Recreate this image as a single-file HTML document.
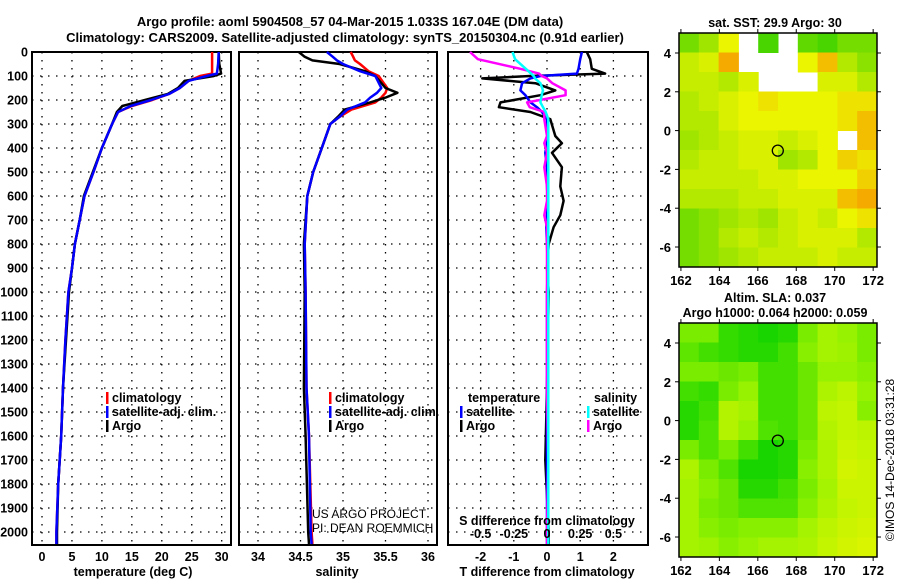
<!DOCTYPE html>
<html><head><meta charset="utf-8"><style>
html,body{margin:0;padding:0;background:#fff;}
svg{display:block;font-family:"Liberation Sans",sans-serif;}
.b{font-weight:bold;font-size:13px;}
.t{font-weight:bold;font-size:12.5px;}
.n{font-weight:normal;font-size:12px;}
</style></head><body>
<svg id="chart" width="900" height="580" viewBox="0 0 900 580" xmlns="http://www.w3.org/2000/svg">
<text class="b" x="350" y="26" text-anchor="middle" font-size="14">Argo profile: aoml 5904508_57 04-Mar-2015 1.033S 167.04E (DM data)</text>
<text class="b" x="345" y="42" text-anchor="middle" font-size="14">Climatology: CARS2009. Satellite-adjusted climatology: synTS_20150304.nc (0.91d earlier)</text>
<g id="g"></g>
</svg>
<script>
// ---- profile data ----
const tDepth = [0,50,90,100,120,150,175,200,225,250,300,400,500,600,700,800,900,1000,1200,1400,1600,1800,2000,2050];
const tArgo  = [29.5,29.6,29.9,28.7,23.8,22.7,21,17.2,13.4,12.5,11.7,10,8.5,7,6.3,5.5,5,4.5,4,3.5,3.2,2.7,2.5,2.5];
const tClim  = [28.4,28.4,28.4,26.4,24.5,23,21.2,18.4,15,12.7,11.7,10,8.6,7.1,6.3,5.5,5,4.4,3.9,3.5,3.2,2.7,2.4,2.4];
const tSat   = [29.5,29.4,29.2,27.5,24.5,23,21.2,18.2,14.8,12.7,11.7,10,8.6,7.1,6.3,5.5,5,4.4,3.9,3.5,3.2,2.7,2.4,2.4];
const sDepth = [0,20,35,50,80,100,150,170,190,210,240,270,300,400,500,600,800,1000,1400,1600,2000,2050];
const sArgo  = [34.48,34.55,34.64,34.96,35.26,35.38,35.5,35.64,35.5,35.32,35.02,34.94,34.85,34.75,34.65,34.58,34.54,34.55,34.54,34.56,34.59,34.6];
const sClim  = [35.09,35.12,35.14,35.2,35.3,35.42,35.52,35.5,35.45,35.38,35.1,34.96,34.85,34.75,34.65,34.58,34.55,34.56,34.57,34.6,34.63,34.64];
const sSat   = [34.81,34.88,34.93,35.0,35.2,35.38,35.45,35.4,35.32,35.26,35.05,34.96,34.85,34.75,34.65,34.58,34.55,34.56,34.57,34.6,34.62,34.63];
const dDepth = [0,30,70,90,100,110,130,160,180,210,230,250,280,350,380,420,480,560,620,680,730,800,900,1000,1400,1700,2000,2050];
const dTArgo = [1.2,1.3,1.35,1.75,-0.5,-1.95,-0.35,0.25,-0.2,-1.4,-1.45,-0.5,0.1,0.25,0.45,0.15,0.45,0.4,0.5,0.4,0.2,0.05,0,0.05,0,-0.05,0.05,0.05];
const dTSat  = [1.05,1.0,0.95,0.9,-0.2,-0.5,-0.75,-0.8,-0.65,-0.5,-0.3,-0.15,0,0.02,0,-0.05,0,0,0.02,0,-0.02,0,0.02,0,0,0,0,0];
const dSArgo = [-0.58,-0.52,-0.2,-0.06,-0.04,0.0,0.04,0.14,0.14,-0.15,-0.13,-0.02,-0.02,0,-0.02,0,-0.02,0,0,-0.02,0,0,0,0,0,0.01,0,0];
const dSSat  = [-0.26,-0.24,-0.16,-0.12,-0.1,-0.09,-0.05,-0.03,-0.04,-0.05,-0.03,-0.01,0.01,0.01,0.01,0.01,0.01,0.01,0.01,0.01,0.01,0.01,0.01,0.01,0.01,0.01,0.01,0.01];
const depthTicks = [0,100,200,300,400,500,600,700,800,900,1000,1100,1200,1300,1400,1500,1600,1700,1800,1900,2000];
const tTicks = [0,5,10,15,20,25,30];
const sTicks = [34,34.5,35,35.5,36];
const sTickLabels = ["34","34.5","35","35.5","36"];
const dTTicks = [-2,-1,0,1,2];
const dSTicks = [-0.5,-0.25,0,0.25,0.5];
// ---- map data (rows lat 5 -> -7, cols lon 162 -> 172) ----
const sstGrid = [
[0.2,0.3,0.5,null,0.1,null,0.15,0.1,0.2,0.2],
[0.4,0.45,0.7,null,null,null,0.5,0.65,0.35,0.25],
[0.4,0.4,0.35,0.45,null,null,null,0.45,0.45,0.35],
[0.35,0.4,0.45,0.5,0.55,0.5,0.5,0.5,0.55,0.55],
[0.35,0.35,0.45,0.5,0.5,0.5,0.5,0.5,0.55,0.65],
[0.3,0.35,0.4,0.45,0.45,0.4,0.45,0.5,null,0.65],
[0.35,0.4,0.4,0.45,0.45,0.3,0.35,0.5,0.6,0.55],
[0.4,0.4,0.4,0.4,0.45,0.45,0.5,0.5,0.5,0.6],
[0.35,0.35,0.35,0.4,0.4,0.45,0.45,0.45,0.65,0.7],
[0.2,0.25,0.3,0.35,0.3,0.4,0.45,0.4,0.5,0.55],
[0.2,0.25,0.35,0.4,0.35,0.4,0.45,0.45,0.45,0.35],
[0.2,0.25,0.3,0.35,0.4,0.4,0.4,0.45,0.4,0.4]];
const slaGrid = [
[0.4,0.4,0.15,0.1,0.05,0.1,0.4,0.6,0.5,0.4],
[0.3,0.2,0.15,0.1,0.1,0.2,0.45,0.6,0.55,0.4],
[0.4,0.4,0.35,0.4,0.2,0.2,0.35,0.5,0.5,0.45],
[0.2,0.15,0.4,0.5,0.2,0.2,0.35,0.65,0.75,0.5],
[0.1,0.2,0.7,0.6,0.2,0.2,0.35,0.75,0.8,0.45],
[0.1,0.25,0.7,0.5,0.25,0.2,0.35,0.7,0.8,0.75],
[0.4,0.25,0.4,0.2,0.05,0.1,0.4,0.65,0.85,0.8],
[0.65,0.4,0.25,0.05,0.05,0.1,0.45,0.65,0.9,0.85],
[0.6,0.45,0.35,0.1,0.1,0.2,0.4,0.6,0.85,0.85],
[0.6,0.4,0.35,0.25,0.25,0.25,0.45,0.65,0.8,0.85],
[0.6,0.45,0.4,0.45,0.45,0.45,0.6,0.75,0.85,0.9],
[0.6,0.55,0.45,0.5,0.6,0.6,0.65,0.8,0.9,0.95]];
const lonTicks = [162,164,166,168,170,172];
const latTicks = [4,2,0,-2,-4,-6];
const argoLon = 167.04, argoLat = -1.033;

const NS="http://www.w3.org/2000/svg";
const G=document.getElementById('g');
function mk(tag,attrs,parent){const e=document.createElementNS(NS,tag);for(const k in attrs)e.setAttribute(k,attrs[k]);(parent||G).appendChild(e);return e;}
function txt(s,x,y,anchor,cls,parent){const e=mk('text',{x:x,y:y,'text-anchor':anchor||'middle','class':cls||'t'},parent);e.textContent=s;return e;}

const Y0=52, Y1=545;
const yD = d => Y0 + d*0.24;
const panels=[{x0:32,x1:231},{x0:239,x1:437},{x0:448,x1:648}];
const xT = t => 42 + t*5.99;
const xS = s => 258 + (s-34)*85;
const xDT = d => 547 + d*33.2;
const xDS = d => 547 + d*132.8;

function frame(p,name){
  const r=mk('rect',{x:p.x0,y:Y0,width:p.x1-p.x0,height:Y1-Y0,fill:'none',stroke:'#000','stroke-width':2});
  
  
  depthTicks.forEach(d=>{
    const l=mk('line',{x1:p.x0,x2:p.x1,y1:yD(d),y2:yD(d),stroke:'#000','stroke-width':1.3,'stroke-dasharray':'1.5 6.5'});
    
    
  });
}
function vgrid(xs,name){xs.forEach(x=>{const l=mk('line',{x1:x,x2:x,y1:Y0,y2:Y1,stroke:'#000','stroke-width':1.3,'stroke-dasharray':'1.5 6.5'});});}
function series(depths,vals,xf,color,name,w){
  const pts=depths.map((d,i)=>xf(vals[i]).toFixed(1)+','+yD(d).toFixed(1)).join(' ');
  const l=mk('polyline',{points:pts,fill:'none',stroke:color,'stroke-width':w||2.5,'stroke-linejoin':'round'});
  
  
}
function xticklabels(vals,labels,xf,y){vals.forEach((v,i)=>{const t=txt(labels[i],xf(v),y);});}

// panel 1 temperature
frame(panels[0],'temperature-panel');
vgrid(tTicks.map(xT),'temperature-gridline');
depthTicks.forEach(d=>{const t=txt(String(d),28,yD(d)+4.5,'end');});
series(tDepth,tClim,xT,'#f00','temperature-climatology-line');
series(tDepth,tArgo,xT,'#000','temperature-argo-line');
series(tDepth,tSat,xT,'#00f','temperature-satellite-line');
xticklabels(tTicks,tTicks.map(String),xT,561);
let at=txt('temperature (deg C)',133,576);

// panel 2 salinity
frame(panels[1],'salinity-panel');
vgrid(sTicks.map(xS),'salinity-gridline');
series(sDepth,sClim,xS,'#f00','salinity-climatology-line');
series(sDepth,sArgo,xS,'#000','salinity-argo-line');
series(sDepth,sSat,xS,'#00f','salinity-satellite-line');
xticklabels(sTicks,sTickLabels,xS,561);
at=txt('salinity',337,576);

// panel 3 differences
frame(panels[2],'difference-panel');
vgrid(dTTicks.map(xDT),'difference-gridline');
series(dDepth,dTArgo,xDT,'#000','t-diff-argo-line');
series(dDepth,dTSat,xDT,'#00f','t-diff-satellite-line');
series(dDepth,dSArgo,xDS,'#f0f','s-diff-argo-line');
series(dDepth,dSSat,xDS,'#0ff','s-diff-satellite-line');
xticklabels(dTTicks,dTTicks.map(String),xDT,561);
xticklabels(dSTicks,["-0.5","-0.25","0","0.25","0.5"],xDS,538);
at=txt('T difference from climatology',547,576);
at=txt('S difference from climatology',547,525);

// legends
function leg(x,y,color,label,name){
  const m=mk('rect',{x:x,y:y-10,width:2.5,height:12,fill:color});
  
  
  const t=txt(label,x+6,y,'start');
  
  
}
leg(106,402,'#f00','climatology','legend-climatology');
leg(106,416,'#00f','satellite-adj. clim.','legend-satellite');
leg(106,430,'#000','Argo','legend-argo');
leg(329,402,'#f00','climatology','legend-sal-climatology');
leg(329,416,'#00f','satellite-adj. clim.','legend-sal-satellite');
leg(329,430,'#000','Argo','legend-sal-argo');
at=txt('temperature',468,402,'start');
at=txt('salinity',594,402,'start');
leg(460,416,'#00f','satellite','legend-t-satellite');
leg(460,430,'#000','Argo','legend-t-argo');
leg(587,416,'#0ff','satellite','legend-s-satellite');
leg(587,430,'#f0f','Argo','legend-s-argo');
at=txt('US ARGO PROJECT',312,518,'start','n');
at=txt('PI: DEAN ROEMMICH',312,532,'start','n');

// maps
function sstColor(v){
  let r,g,b=0;
  if(v<=0.5){const f=v/0.5;r=10+225*Math.pow(f,0.8);g=205+40*f;}
  else if(v<=0.7){const f=(v-0.5)/0.2;r=235+10*f;g=245-75*f;}
  else {const f=(v-0.7)/0.3;r=245-45*f;g=170-170*f;}
  return 'rgb('+Math.round(r)+','+Math.round(g)+','+b+')';
}
function slaColor(v){
  let r,g;
  if(v<=0.5){const f=v/0.5;r=10+140*f;g=210+32*f;}
  else {const f=(v-0.5)/0.5;r=150+75*f;g=242+3*f;}
  return 'rgb('+Math.round(r)+','+Math.round(g)+',0)';
}
function map(top,bottom,grid,cf,name){
  const L=679,R=877;
  const lonMin=161.9,lonMax=172.2,latMax=5.03,latMin=-7.03;
  const xm=lon=>L+(lon-lonMin)/(lonMax-lonMin)*(R-L);
  const ym=lat=>top+(latMax-lat)/(latMax-latMin)*(bottom-top);
  const gg=mk('g',{});
  
  
  const rows=grid.length, cols=grid[0].length;
  grid.forEach((row,i)=>row.forEach((v,j)=>{
    if(v===null)return;
    const lon0=lonMin+j*(lonMax-lonMin)/cols, lon1=lonMin+(j+1)*(lonMax-lonMin)/cols;
    const lat0=latMax-i*(latMax-latMin)/rows, lat1=latMax-(i+1)*(latMax-latMin)/rows;
    const c=mk('rect',{x:xm(lon0),y:ym(lat0),width:xm(lon1)-xm(lon0)+0.5,height:ym(lat1)-ym(lat0)+0.5,fill:cf(v)},gg);
    
    
  }));
  const f=mk('rect',{x:L,y:top,width:R-L,height:bottom-top,fill:'none',stroke:'#000','stroke-width':1.5});
  
  
  lonTicks.forEach(lon=>{
    mk('line',{x1:xm(lon),x2:xm(lon),y1:top-4,y2:top,stroke:'#000'});
    mk('line',{x1:xm(lon),x2:xm(lon),y1:bottom,y2:bottom+4,stroke:'#000'});
    const t=txt(String(lon),xm(lon),bottom+18,'middle','b');
    
    
  });
  latTicks.forEach(lat=>{
    mk('line',{x1:L-4,x2:L,y1:ym(lat),y2:ym(lat),stroke:'#000'});
    mk('line',{x1:R,x2:R+4,y1:ym(lat),y2:ym(lat),stroke:'#000'});
    const t=txt(String(lat),671,ym(lat)+5,'end','b');
    
    
  });
  const c=mk('circle',{cx:xm(argoLon),cy:ym(argoLat),r:5.5,fill:'none',stroke:'#000','stroke-width':1.3});
  
  
}
map(33,267,sstGrid,sstColor,'sst-map');
map(323,557,slaGrid,slaColor,'sla-map');
at=txt('sat. SST: 29.9 Argo: 30',775,27,'middle','t');
at=txt('Altim. SLA: 0.037',775,302,'middle','t');
at=txt('Argo h1000: 0.064 h2000: 0.059',775,317,'middle','t');
at=txt('©IMOS 14-Dec-2018 03:31:28',0,0,'middle','n');
at.setAttribute('transform','translate(894,460) rotate(-90)');


</script>
</body></html>
